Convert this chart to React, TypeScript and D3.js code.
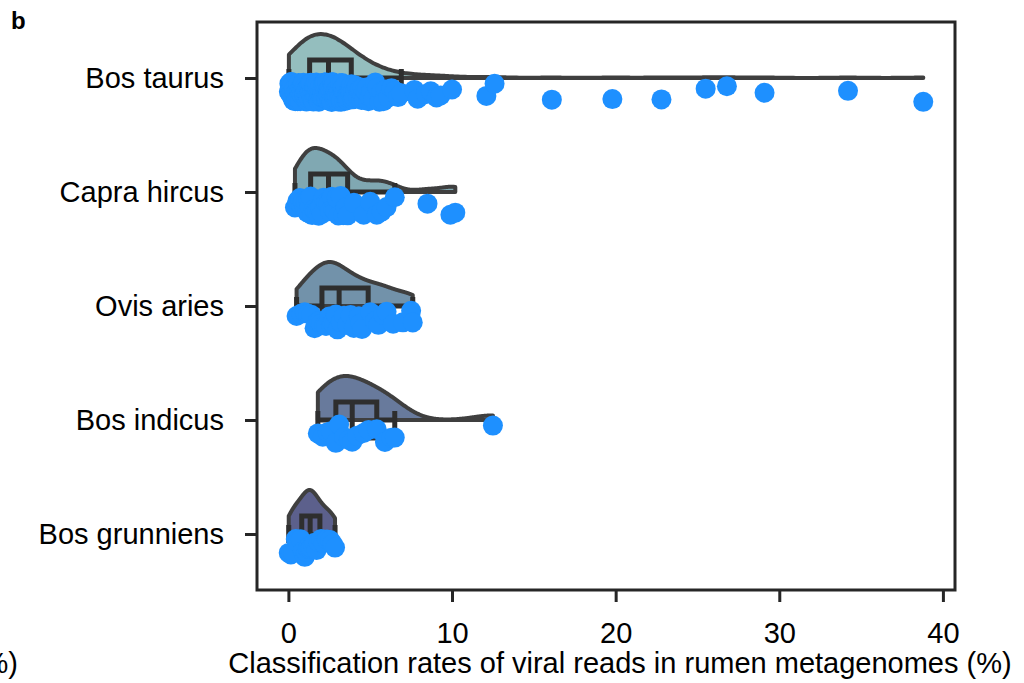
import React, { useEffect, useRef } from 'react';
import * as d3 from 'd3';

const categories = ['Bos taurus', 'Capra hircus', 'Ovis aries', 'Bos indicus', 'Bos grunniens'];

// classification rates (%) per host
const bosTaurus = [
  0.03, 0.06, 0.09, 0.12, 0.15, 0.18, 0.21, 0.24, 0.27, 0.3, 0.33, 0.36, 0.39, 0.42, 0.45, 0.48, 0.51, 0.54, 0.57, 0.6,
  0.62, 0.65, 0.67, 0.7, 0.72, 0.75, 0.77, 0.8, 0.82, 0.85, 0.87, 0.9, 0.92, 0.94, 0.96, 0.98,
  1.01, 1.03, 1.06, 1.08, 1.1, 1.13, 1.15, 1.18, 1.2, 1.22, 1.25, 1.27, 1.29, 1.32, 1.34, 1.37, 1.39, 1.41, 1.44, 1.46,
  1.48, 1.51, 1.53, 1.56, 1.58, 1.6, 1.63, 1.65, 1.67, 1.7, 1.72, 1.75, 1.77, 1.79, 1.82, 1.84, 1.86, 1.89, 1.91, 1.94,
  1.96, 1.98,
  2.01, 2.03, 2.06, 2.08, 2.1, 2.13, 2.15, 2.18, 2.2, 2.22, 2.25, 2.27, 2.29, 2.32, 2.34, 2.37, 2.39, 2.41, 2.44, 2.46,
  2.48, 2.51, 2.53, 2.56, 2.58, 2.6, 2.63, 2.65, 2.67, 2.7, 2.72, 2.75, 2.77, 2.79, 2.82, 2.84, 2.86, 2.89, 2.91, 2.94,
  2.96, 2.98,
  3.02, 3.05, 3.08, 3.12, 3.15, 3.18, 3.22, 3.25, 3.28, 3.32, 3.35, 3.38, 3.42, 3.45, 3.48, 3.52, 3.55, 3.58, 3.62, 3.65,
  3.68, 3.72, 3.75, 3.78, 3.82, 3.85, 3.88, 3.92, 3.95, 3.98,
  4.04, 4.1, 4.18, 4.25, 4.32, 4.4, 4.47, 4.54, 4.61, 4.68, 4.75, 4.82, 4.89, 4.96,
  5.06, 5.19, 5.31, 5.44, 5.56, 5.69, 5.81, 5.94, 6.1, 6.3, 6.5, 6.7, 6.9, 7.7, 7.9, 8.4, 8.7, 9.05, 9.3,
  10.0, 12.1, 12.6, 16.1, 19.8, 22.8, 25.5, 26.8, 29.1, 34.2, 38.8,
];
const capraHircus = [
  0.4, 0.55, 0.7, 0.8, 0.9, 1.0, 1.08, 1.15, 1.22, 1.3, 1.36, 1.45, 1.55, 1.65, 1.75, 1.85, 1.95, 2.05, 2.15, 2.3,
  2.45, 2.55, 2.65, 2.75, 2.85, 2.95, 3.05, 3.2, 3.35, 3.5, 3.62, 4.0, 4.6, 5.0, 5.4, 5.7, 6.0, 6.5, 8.5, 9.9, 10.2,
];
const ovisAries = [
  0.5, 0.8, 1.0, 1.2, 1.4, 1.6, 1.8, 1.9, 2.0, 2.2, 2.3, 2.5, 2.6, 2.7, 2.8, 2.9, 3.0, 3.2, 3.4, 3.6,
  3.8, 4.0, 4.3, 4.4, 4.5, 5.0, 5.3, 5.5, 5.8, 6.0, 6.4, 7.0, 7.5, 7.6,
];
const bosIndicus = [1.8, 2.1, 2.4, 2.6, 2.9, 3.1, 3.4, 3.7, 3.9, 4.2, 4.6, 4.9, 5.4, 5.9, 6.3, 6.5, 12.5];
const bosGrunniens = [
  0.02, 0.15, 0.3, 0.45, 0.6, 0.75, 0.88, 1.0, 1.1, 1.2, 1.27, 1.33, 1.4, 1.5, 1.6, 1.72, 1.85, 2.0, 2.15, 2.35,
  2.55, 2.7, 2.85,
];
const series = [bosTaurus, capraHircus, ovisAries, bosIndicus, bosGrunniens];
const xTicks = [0, 10, 20, 30, 40];
const violinColors = ['#94bebe', '#80a8b2', '#7292aa', '#687a9c', '#5c608c'];
const violinBw = [1.15, 0.7, 0.75, 1.2, 0.4];

// gaussian kde cut at the data range
function kde(values: number[], bw: number, n = 260) {
  const [lo, hi] = d3.extent(values) as [number, number];
  return d3.range(n).map((i) => {
    const g = lo + ((hi - lo) * i) / (n - 1);
    const dens =
      (d3.mean(values, (v) => Math.exp(-0.5 * ((g - v) / bw) ** 2)) as number) / (bw * Math.sqrt(2 * Math.PI));
    return [g, dens] as [number, number];
  });
}

export default function App() {
  const ref = useRef<SVGSVGElement>(null);

  useEffect(() => {
    const svg = d3.select(ref.current);
    svg.selectAll('*').remove();
    const font = '"Liberation Sans", Arial, sans-serif';
    const left = 257, right = 955, top = 22, bottom = 590;

    const all = series.flat();
    const [mn, mx] = d3.extent(all) as [number, number];
    const pad = (mx - mn) * 0.05;
    const x = d3.scaleLinear().domain([mn - pad, mx + pad]).range([left, right]);
    const y = d3.scalePoint().domain(categories).range([78, 534]);

    const halfBox = 18;
    const violinH = 44;
    const rnd = d3.randomUniform.source(d3.randomLcg(0.37))(-1, 1);

    // half violins
    series.forEach((vals, i) => {
      const base = y(categories[i]) as number;
      const dens = kde(vals, violinBw[i]);
      const maxD = d3.max(dens, (d) => d[1]) as number;
      const h = d3.scaleLinear().domain([0, maxD]).range([0, violinH]);
      const area = d3
        .area<[number, number]>()
        .x((d) => x(d[0]))
        .y0(base)
        .y1((d) => base - h(d[1]))
        .curve(d3.curveBasis);
      svg
        .append('path')
        .attr('d', area(dens))
        .attr('fill', violinColors[i])
        .attr('stroke', '#3f3f3f')
        .attr('stroke-width', 4)
        .attr('stroke-linejoin', 'round');
    });

    // boxes
    series.forEach((vals, i) => {
      const base = y(categories[i]) as number;
      const s = [...vals].sort(d3.ascending);
      const q1 = d3.quantile(s, 0.25) as number;
      const med = d3.quantile(s, 0.5) as number;
      const q3 = d3.quantile(s, 0.75) as number;
      const iqr = q3 - q1;
      const lo = d3.min(s.filter((v) => v >= q1 - 1.5 * iqr)) as number;
      const hi = d3.max(s.filter((v) => v <= q3 + 1.5 * iqr)) as number;
      const g = svg.append('g').attr('stroke', '#2e2e2e').attr('stroke-width', 5).attr('fill', 'none');
      g.append('line').attr('x1', x(lo)).attr('x2', x(q1)).attr('y1', base).attr('y2', base);
      g.append('line').attr('x1', x(q3)).attr('x2', x(hi)).attr('y1', base).attr('y2', base);
      [lo, hi].forEach((v) =>
        g.append('line').attr('x1', x(v)).attr('x2', x(v)).attr('y1', base - halfBox / 2).attr('y2', base + halfBox / 2)
      );
      g.append('rect')
        .attr('x', x(q1))
        .attr('y', base - halfBox)
        .attr('width', x(q3) - x(q1))
        .attr('height', halfBox * 2);
      g.append('line').attr('x1', x(med)).attr('x2', x(med)).attr('y1', base - halfBox).attr('y2', base + halfBox);
    });

    // rain (strip points)
    series.forEach((vals, i) => {
      const base = y(categories[i]) as number;
      svg
        .append('g')
        .selectAll('circle')
        .data(vals)
        .join('circle')
        .attr('cx', (d) => x(d))
        .attr('cy', () => base + 14 + rnd() * 10)
        .attr('r', 10)
        .attr('fill', '#1e90ff');
    });

    // frame
    svg
      .append('rect')
      .attr('x', left)
      .attr('y', top)
      .attr('width', right - left)
      .attr('height', bottom - top)
      .attr('fill', 'none')
      .attr('stroke', '#262626')
      .attr('stroke-width', 3);

    const xAxis = svg
      .append('g')
      .attr('transform', `translate(0,${bottom})`)
      .call(d3.axisBottom(x).tickValues(xTicks).tickSize(12).tickPadding(20).tickFormat(d3.format('d')));
    const yAxis = svg
      .append('g')
      .attr('transform', `translate(${left},0)`)
      .call(d3.axisLeft(y).tickSize(12).tickPadding(21));
    [xAxis, yAxis].forEach((a) => {
      a.select('.domain').remove();
      a.selectAll('line').attr('stroke', '#262626').attr('stroke-width', 3);
      a.selectAll('text').attr('fill', '#000').style('font-family', font).style('font-size', '29px');
    });

    svg
      .append('text')
      .attr('x', 620)
      .attr('y', 673)
      .attr('text-anchor', 'middle')
      .style('font-family', font)
      .style('font-size', '29px')
      .text('Classification rates of viral reads in rumen metagenomes (%)');

    // tail of the neighbouring panel's axis title
    svg
      .append('text')
      .attr('x', 18)
      .attr('y', 673)
      .attr('text-anchor', 'end')
      .style('font-family', font)
      .style('font-size', '29px')
      .text('%)');

    svg
      .append('text')
      .attr('x', 11)
      .attr('y', 29)
      .style('font-family', font)
      .style('font-size', '24px')
      .style('font-weight', 'bold')
      .text('b');
  }, []);

  return (
    <svg
      ref={ref}
      width={1024}
      height={683}
      style={{ position: 'absolute', left: 0, top: 0, background: '#fff' }}
    />
  );
}
